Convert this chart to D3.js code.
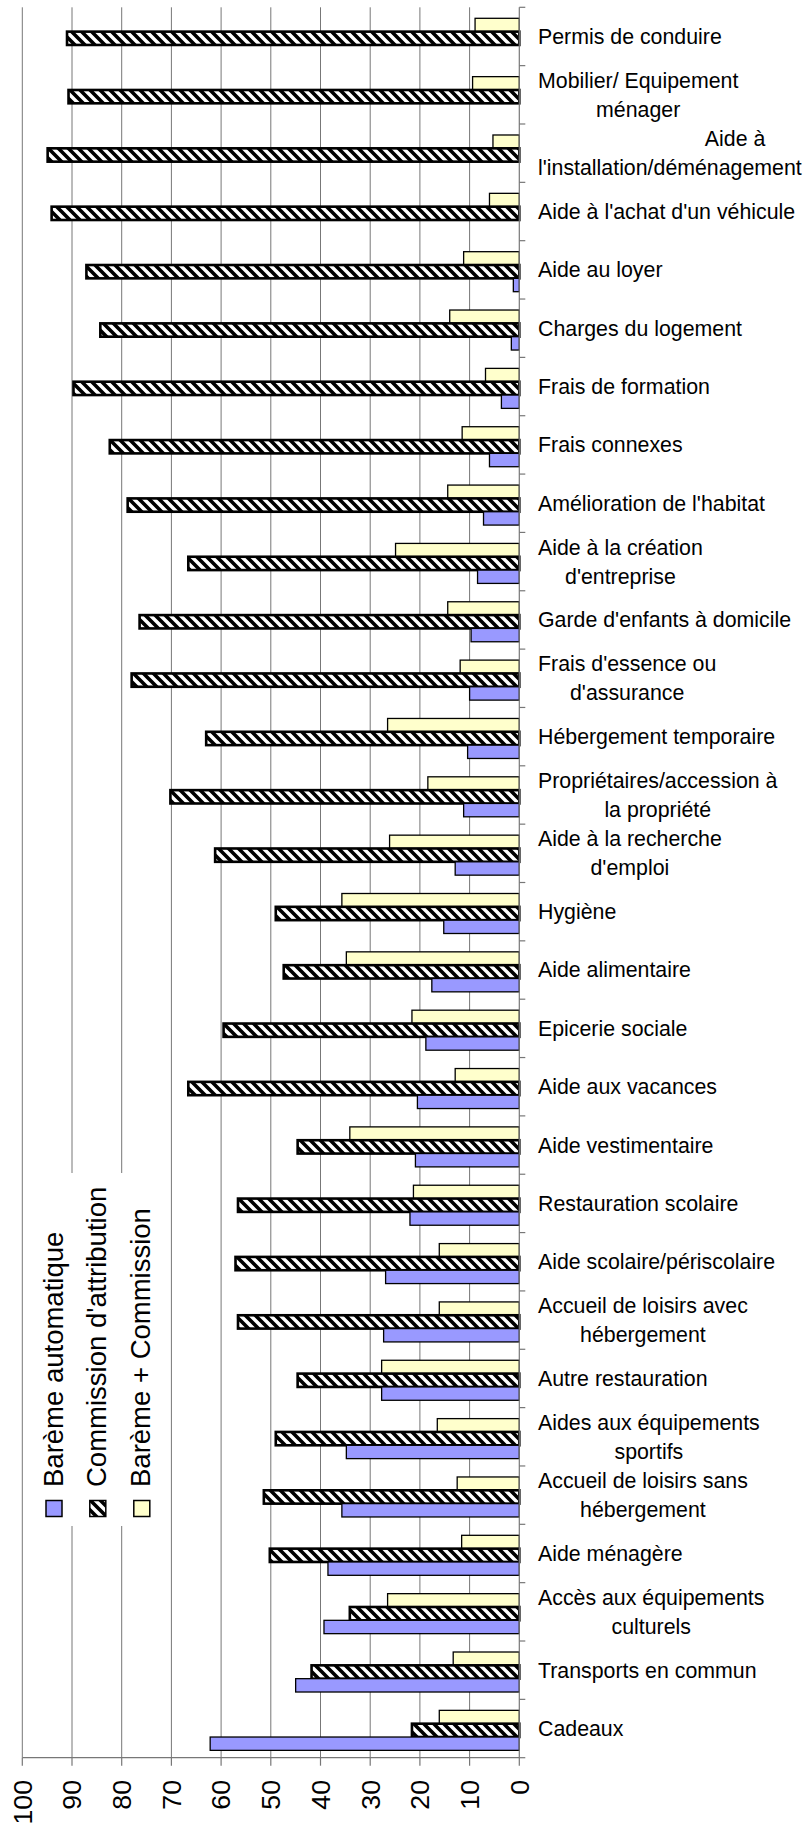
<!DOCTYPE html>
<html>
<head>
<meta charset="utf-8">
<script src="https://cdn.jsdelivr.net/npm/d3@7"></script>
<style>
  html, body { margin: 0; padding: 0; background: #fff; }
  svg { display: block; font-family: "Liberation Sans", Arial, sans-serif; }
</style>
</head>
<body>
<svg id="chart" width="804" height="1827"></svg>
<script>
// Categories, top to bottom as displayed
const categories = [
  "Permis de conduire",
  "Mobilier/ Equipement\nménager",
  "\u00A0\u00A0\u00A0\u00A0\u00A0\u00A0\u00A0\u00A0\u00A0\u00A0\u00A0\u00A0\u00A0\u00A0\u00A0\u00A0\u00A0\u00A0\u00A0\u00A0\u00A0\u00A0Aide à\nl'installation/déménagement",
  "Aide à l'achat d'un véhicule",
  "Aide au loyer",
  "Charges du logement",
  "Frais de formation",
  "Frais connexes",
  "Amélioration de l'habitat",
  "Aide à la création\nd'entreprise",
  "Garde d'enfants à domicile",
  "Frais d'essence ou\nd'assurance",
  "Hébergement temporaire",
  "Propriétaires/accession à\nla propriété",
  "Aide à la recherche\nd'emploi",
  "Hygiène",
  "Aide alimentaire",
  "Epicerie sociale",
  "Aide aux vacances",
  "Aide vestimentaire",
  "Restauration scolaire",
  "Aide scolaire/périscolaire",
  "Accueil de loisirs avec\nhébergement",
  "Autre restauration",
  "Aides aux équipements\nsportifs",
  "Accueil de loisirs sans\nhébergement",
  "Aide ménagère",
  "Accès aux équipements\nculturels",
  "Transports en commun",
  "Cadeaux"
];

const seriesNames = ["Barème automatique", "Commission d'attribution", "Barème + Commission"];

const baremeAuto = [0, 0, 0, 0, 1.2, 1.6, 3.6, 6.0, 7.2, 8.4,
                    9.7, 10.0, 10.4, 11.2, 12.9, 15.2, 17.6, 18.8, 20.5, 20.9,
                    22.0, 26.9, 27.3, 27.7, 34.8, 35.7, 38.5, 39.3, 45.0, 62.2];
const commission = [91.0, 90.7, 94.9, 94.1, 87.1, 84.3, 89.7, 82.4, 78.8, 66.6,
                    76.4, 78.0, 63.0, 70.2, 61.2, 49.0, 47.4, 59.5, 66.6, 44.6,
                    56.6, 57.1, 56.6, 44.6, 49.0, 51.4, 50.2, 34.1, 41.8, 21.6];
const baremeCommission = [8.9, 9.4, 5.3, 6.0, 11.2, 14.0, 6.8, 11.5, 14.4, 24.9,
                    14.4, 11.9, 26.5, 18.4, 26.1, 35.7, 34.8, 21.6, 12.9, 34.1,
                    21.3, 16.1, 16.1, 27.7, 16.5, 12.5, 11.6, 26.5, 13.3, 16.1];

const xTicks = [0, 10, 20, 30, 40, 50, 60, 70, 80, 90, 100];

(function () {
const svg = d3.select("#chart");
const defs = svg.append("defs");
const pat = defs.append("pattern")
  .attr("id", "hatch").attr("patternUnits", "userSpaceOnUse")
  .attr("width", 10).attr("height", 10);
pat.append("rect").attr("width", 10).attr("height", 10).attr("fill", "#fff");
pat.append("path")
  .attr("d", "M-3,-3 L13,13 M-3,7 L3,13 M7,-3 L13,3")
  .attr("stroke", "#000").attr("stroke-width", 3.6);

const pLeft = 22.3, pRight = 519.3, pTop = 7.3, pBottom = 1757.7;
const x = d3.scaleLinear().domain([0, 100]).range([pRight, pLeft]);
const y = d3.scaleBand().domain(categories).range([pTop, pBottom]);
const ySer = d3.scaleBand().domain(["combo", "comm", "auto"]).range([11, 51]);

const gridColor = "#777";

// gridlines
svg.append("g").selectAll("line")
  .data(xTicks.filter(t => t > 0))
  .join("line")
  .attr("x1", d => x(d)).attr("x2", d => x(d))
  .attr("y1", pTop).attr("y2", pBottom)
  .attr("stroke", gridColor).attr("stroke-width", 1);

// bars
const rows = categories.map((c, i) => ({
  cat: c, auto: baremeAuto[i], comm: commission[i], combo: baremeCommission[i]
}));

const styles = {
  combo: { fill: "#FFFFCC", sw: 1.3 },
  comm: { fill: "url(#hatch)", sw: 2.6 },
  auto: { fill: "#9999FF", sw: 1.3 }
};

const gBars = svg.append("g");
["combo", "comm", "auto"].forEach(key => {
  gBars.append("g").selectAll("rect")
    .data(rows.filter(r => r[key] > 0))
    .join("rect")
    .attr("x", d => x(d[key]))
    .attr("width", d => x(0) - x(d[key]))
    .attr("y", d => y(d.cat) + ySer(key))
    .attr("height", ySer.bandwidth())
    .attr("fill", styles[key].fill)
    .attr("stroke", "#000")
    .attr("stroke-width", styles[key].sw);
});

// right axis (category axis)
const gY = svg.append("g");
gY.append("line").attr("x1", pRight).attr("x2", pRight).attr("y1", pTop).attr("y2", pBottom)
  .attr("stroke", gridColor).attr("stroke-width", 1.2);
const bounds = categories.map(c => y(c)).concat([pBottom]);
gY.selectAll("line.tk").data(bounds).join("line").attr("class", "tk")
  .attr("x1", pRight).attr("x2", pRight + 6).attr("y1", d => d).attr("y2", d => d)
  .attr("stroke", gridColor).attr("stroke-width", 1.2);

// bottom axis
const gX = svg.append("g");
gX.append("line").attr("x1", pLeft).attr("x2", pRight).attr("y1", pBottom).attr("y2", pBottom)
  .attr("stroke", gridColor).attr("stroke-width", 1.2);
gX.selectAll("line.tk").data(xTicks).join("line").attr("class", "tk")
  .attr("x1", d => x(d)).attr("x2", d => x(d)).attr("y1", pBottom).attr("y2", pBottom + 8)
  .attr("stroke", gridColor).attr("stroke-width", 1.2);
gX.selectAll("text").data(xTicks).join("text")
  .attr("transform", d => `translate(${x(d)},1780) rotate(-90)`)
  .attr("text-anchor", "end").attr("dy", "0.35em")
  .attr("font-size", "26.7px").attr("fill", "#000")
  .text(d => d);

// category labels
const labelX = 538, lineH = 29;
const gL = svg.append("g").attr("font-size", "21.33px").attr("fill", "#000");
categories.forEach(c => {
  const lines = c.split("\n");
  const cy = y(c) + y.bandwidth() / 2;
  const t = gL.append("text").attr("xml:space", "preserve");
  const spans = lines.map((ln, i) => t.append("tspan")
    .attr("y", cy + (i - (lines.length - 1) / 2) * lineH)
    .attr("dy", "0.35em").text(ln));
  const widths = spans.map(s => s.node().getComputedTextLength());
  const maxW = d3.max(widths);
  if (lines.length === 1) {
    spans[0].attr("x", labelX).attr("text-anchor", "start");
  } else {
    spans.forEach(s => s.attr("x", labelX + maxW / 2).attr("text-anchor", "middle"));
  }
});

// legend
const gLeg = svg.append("g");
gLeg.append("rect").attr("x", 23.5).attr("y", 1173).attr("width", 145).attr("height", 353)
  .attr("fill", "#fff");
const legFills = ["#9999FF", "url(#hatch)", "#FFFFCC"];
const legBase = [62.5, 106.3, 150.3];
seriesNames.forEach((name, i) => {
  gLeg.append("rect")
    .attr("x", legBase[i] - 16.5).attr("y", 1500.5)
    .attr("width", 16).attr("height", 16)
    .attr("fill", legFills[i]).attr("stroke", "#000").attr("stroke-width", 1.5);
  gLeg.append("text")
    .attr("transform", `translate(${legBase[i]},1487) rotate(-90)`)
    .attr("text-anchor", "start")
    .attr("font-size", "27.5px").attr("fill", "#000")
    .text(name);
});
})();
</script>
</body>
</html>
